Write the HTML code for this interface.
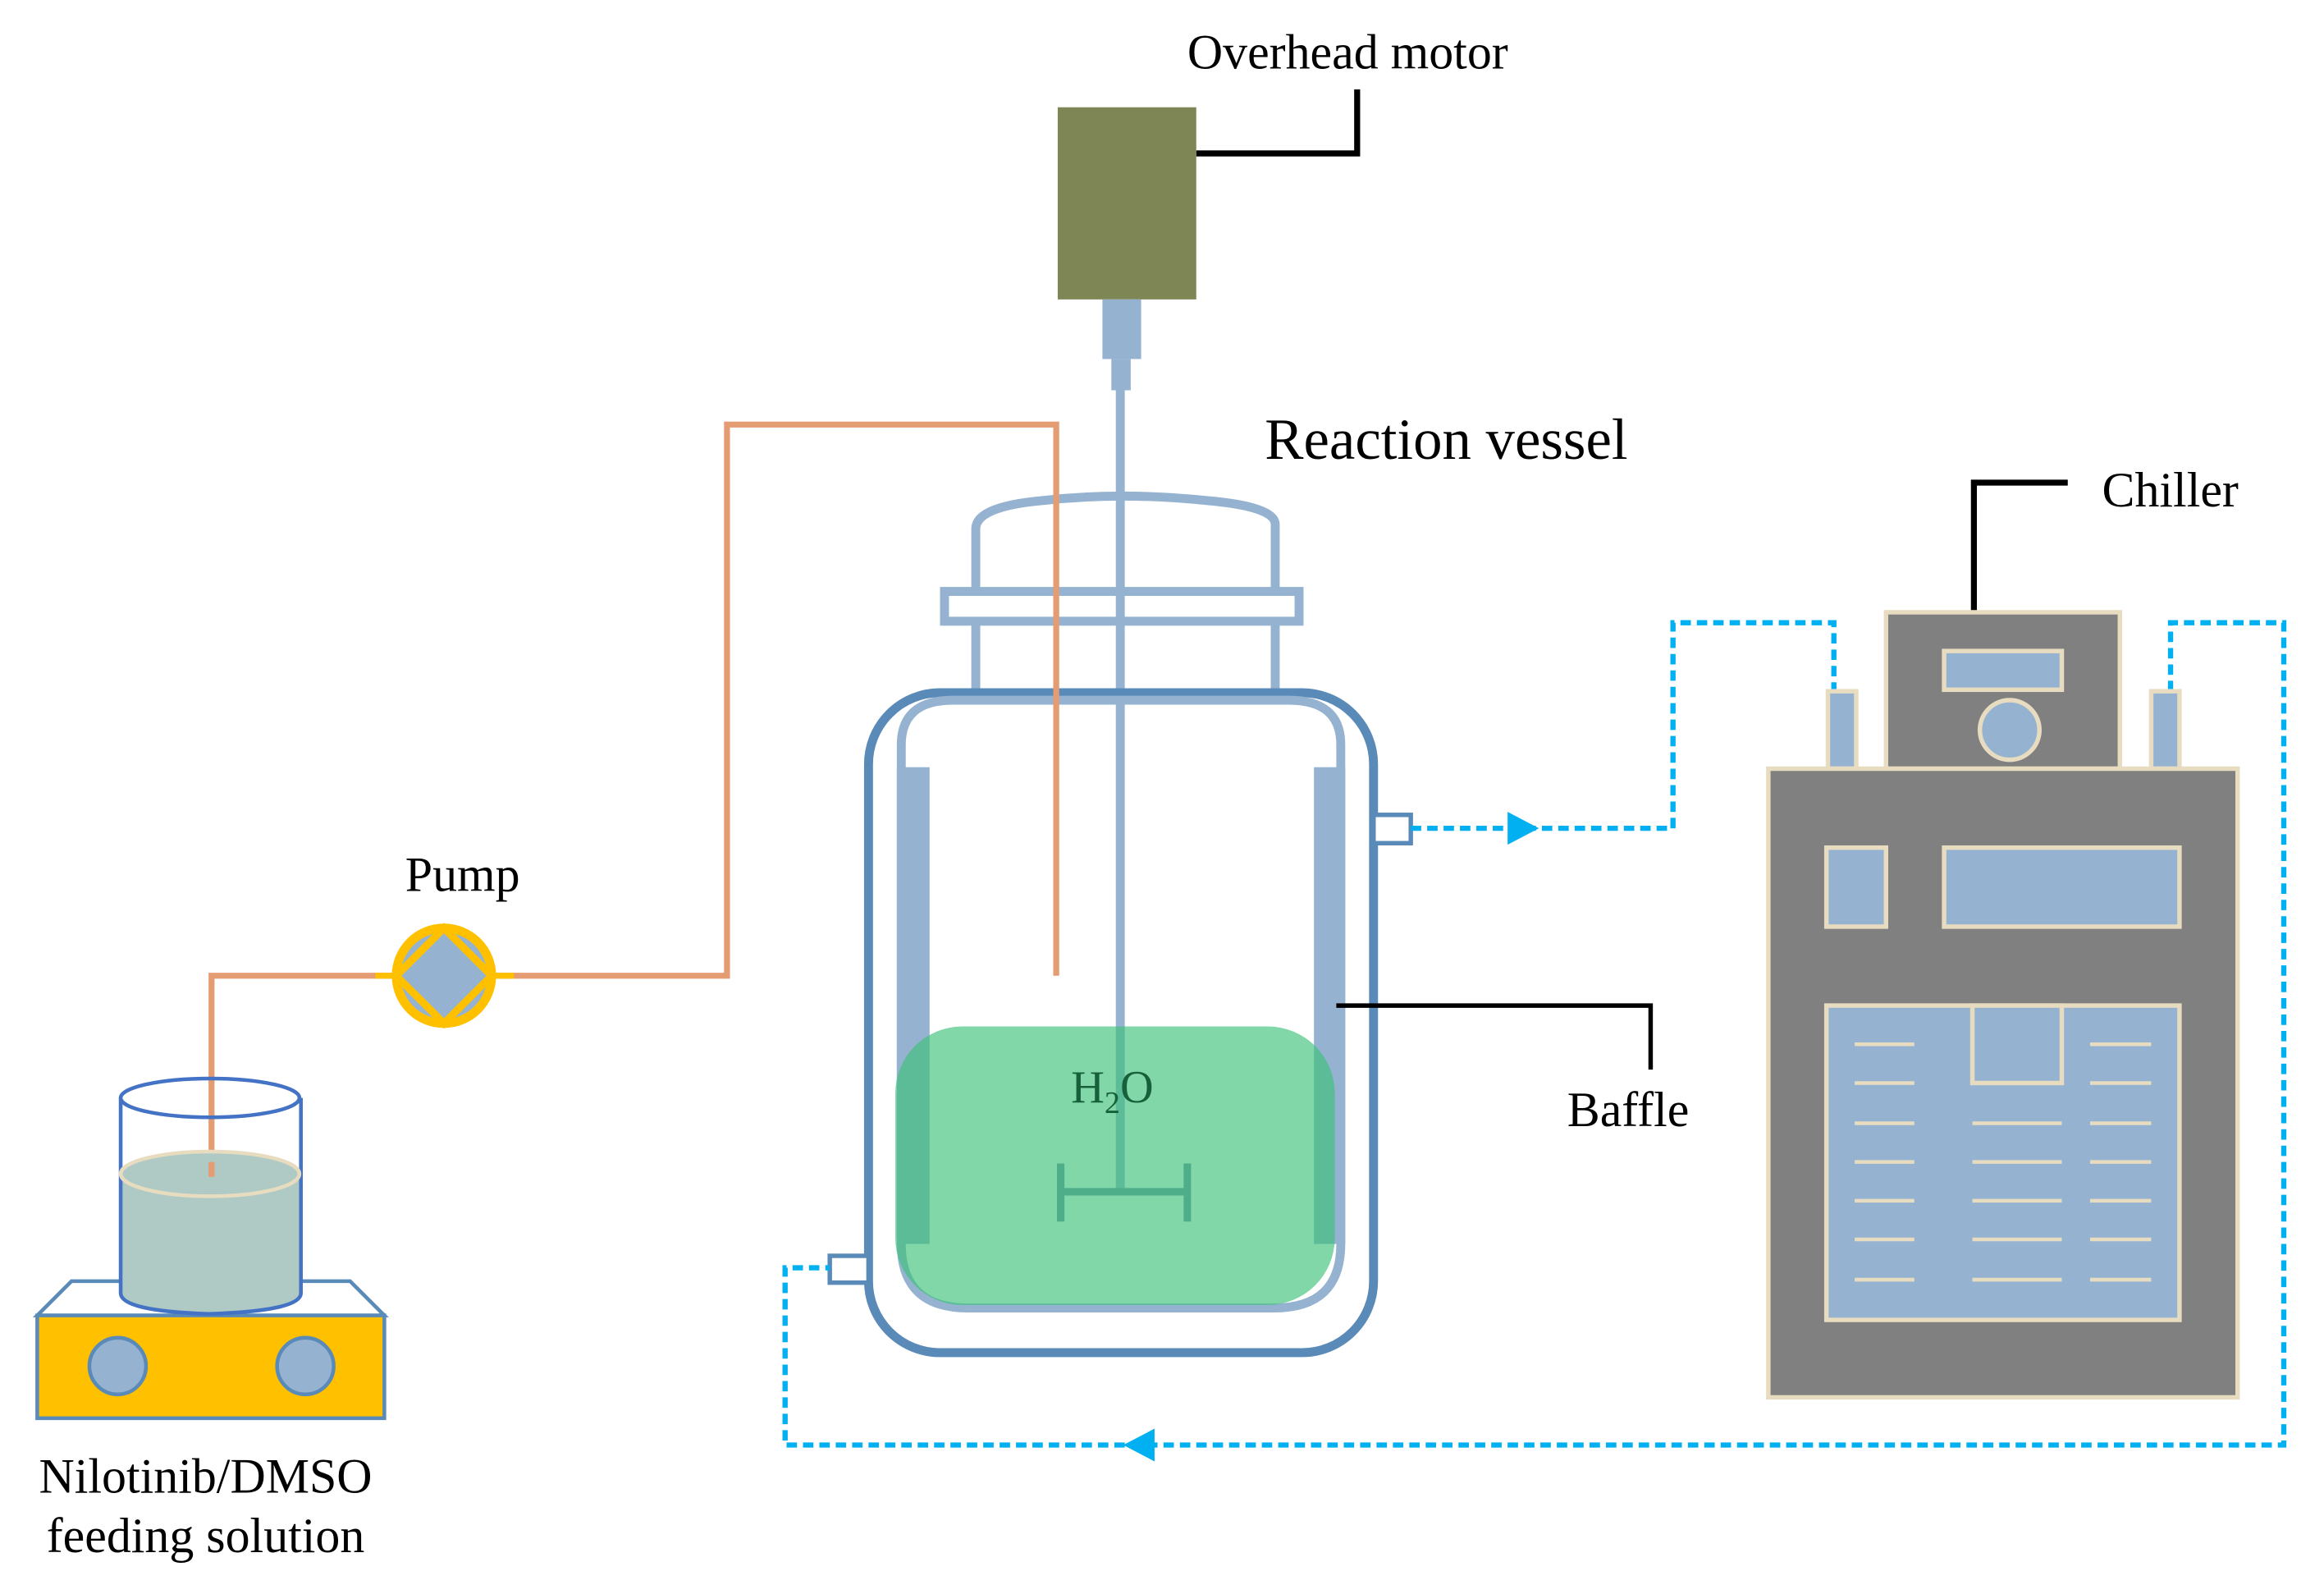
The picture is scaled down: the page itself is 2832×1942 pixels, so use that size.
<!DOCTYPE html>
<html><head><meta charset="utf-8"><style>html,body{margin:0;padding:0;background:#fff}svg{display:block}</style></head>
<body>
<svg width="2832" height="1942" viewBox="0 0 1560 1070" preserveAspectRatio="none" xmlns="http://www.w3.org/2000/svg" font-family="'Liberation Serif', serif">
<rect width="1560" height="1070" fill="#fff"/>
<!-- motor -->
<text x="797" y="46" font-size="33">Overhead motor</text>
<polyline points="803,103 911,103 911,60" fill="none" stroke="#000" stroke-width="4"/>
<rect x="710" y="72" width="93" height="129" fill="#7E8656"/>
<rect x="740" y="201" width="26" height="40" fill="#95B3D0"/>
<rect x="746" y="241" width="13" height="21" fill="#95B3D0"/>
<line x1="752" y1="262" x2="752" y2="800" stroke="#95B3D0" stroke-width="6"/>
<text x="849" y="308" font-size="39">Reaction vessel</text>
<!-- lid -->
<path d="M655,465 V355 Q655,340 700,336 Q752,330 810,336 Q856,340 856,352 V465" fill="none" stroke="#95B3D0" stroke-width="6"/>
<rect x="634" y="397" width="238" height="20" fill="#fff" stroke="#95B3D0" stroke-width="6"/>
<line x1="752" y1="397" x2="752" y2="417" stroke="#95B3D0" stroke-width="6"/>
<!-- outer jacket -->
<rect x="583" y="465" width="339" height="443" rx="48" fill="none" stroke="#5A8AB8" stroke-width="6"/>
<rect x="922" y="547" width="25" height="19" fill="#fff" stroke="#5A8AB8" stroke-width="3"/>
<rect x="557" y="843" width="26" height="18" fill="#fff" stroke="#5A8AB8" stroke-width="3"/>
<!-- inner vessel -->
<path d="M605,515 V500 Q605,470 640,470 H865 Q900,470 900,500 V835 Q900,878 855,878 H650 Q605,878 605,835 Z" fill="none" stroke="#95B3D0" stroke-width="6"/>
<rect x="602" y="515" width="22" height="320" fill="#95B3D0"/>
<rect x="882" y="515" width="21" height="320" fill="#95B3D0"/>
<!-- orange tube -->
<polyline points="142,790 142,655 265,655" fill="none" stroke="#E49C72" stroke-width="4"/>
<polyline points="333,655 488,655 488,285 709,285 709,655" fill="none" stroke="#E49C72" stroke-width="4"/>
<!-- liquid -->
<rect x="601" y="689" width="295" height="187" rx="45" fill="#3EC27A" fill-opacity="0.65"/>
<text x="719" y="740" font-size="31" fill="#16613A">H<tspan font-size="21" dy="7">2</tspan><tspan dy="-7">O</tspan></text>
<line x1="712" y1="800" x2="797" y2="800" stroke="#4FAE8A" stroke-width="5"/>
<line x1="712" y1="781" x2="712" y2="820" stroke="#4FAE8A" stroke-width="5"/>
<line x1="797" y1="781" x2="797" y2="820" stroke="#4FAE8A" stroke-width="5"/>
<!-- pump -->
<text x="272" y="598" font-size="33">Pump</text>
<line x1="252" y1="655" x2="345" y2="655" stroke="#FFC000" stroke-width="4"/>
<circle cx="298" cy="655" r="32" fill="#95B3D0" stroke="#FFC000" stroke-width="6"/>
<polygon points="298,623 330,655 298,687 266,655" fill="#95B3D0" stroke="#FFC000" stroke-width="5"/>
<!-- stirrer plate -->
<polygon points="25,883 48,860 235,860 258,883" fill="#fff" stroke="#5A8AB8" stroke-width="2.5"/>
<rect x="25" y="883" width="233" height="69" fill="#FFC000" stroke="#5A8AB8" stroke-width="2.5"/>
<circle cx="79" cy="917" r="19" fill="#95B3D0" stroke="#5A8AB8" stroke-width="2.5"/>
<circle cx="205" cy="917" r="19" fill="#95B3D0" stroke="#5A8AB8" stroke-width="2.5"/>
<!-- beaker -->
<path d="M81,788 V868 Q81,880 140,882 Q202,880 202,868 V788 Z" fill="#AFCAC5"/>
<path d="M81,737 V868 Q81,880 140,882 Q202,880 202,868 V737" fill="none" stroke="#4472C4" stroke-width="2.5"/>
<ellipse cx="141" cy="737" rx="60" ry="13" fill="none" stroke="#4472C4" stroke-width="2.5"/>
<ellipse cx="141" cy="788" rx="60" ry="15" fill="#AFCAC5" stroke="#E8DCC0" stroke-width="2.5"/>
<line x1="142" y1="780" x2="142" y2="790" stroke="#E49C72" stroke-width="4"/>
<text x="138" y="1002" font-size="33" text-anchor="middle">Nilotinib/DMSO</text>
<text x="138" y="1042" font-size="33" text-anchor="middle">feeding solution</text>
<!-- baffle label -->
<polyline points="897,675 1108,675 1108,718" fill="none" stroke="#000" stroke-width="3"/>
<text x="1052" y="756" font-size="33">Baffle</text>
<!-- coolant loop -->
<g fill="none" stroke="#00B0F0" stroke-width="3.5" stroke-dasharray="7,4">
<polyline points="947,556 1123,556 1123,418 1231,418 1231,464"/>
<polyline points="1457,464 1457,418 1533,418 1533,970 527,970 527,851 557,851"/>
</g>
<polygon points="1012,545 1033,556 1012,567" fill="#00B0F0"/>
<polygon points="775,959 754,970 775,981" fill="#00B0F0"/>
<!-- chiller -->
<polyline points="1325,411 1325,324 1388,324" fill="none" stroke="#000" stroke-width="4"/>
<text x="1411" y="340" font-size="33">Chiller</text>
<g stroke="#E8DCC0" stroke-width="3">
<rect x="1227" y="464" width="19" height="52" fill="#95B3D0"/>
<rect x="1444" y="464" width="19" height="52" fill="#95B3D0"/>
<rect x="1266" y="411" width="157" height="105" fill="#808080"/>
<rect x="1305" y="437" width="79" height="26" fill="#95B3D0"/>
<circle cx="1349" cy="490" r="20" fill="#95B3D0"/>
<rect x="1187" y="516" width="315" height="422" fill="#808080"/>
<rect x="1226" y="569" width="40" height="53" fill="#95B3D0"/>
<rect x="1305" y="569" width="158" height="53" fill="#95B3D0"/>
<rect x="1226" y="675" width="237" height="211" fill="#95B3D0"/>
<rect x="1324" y="675" width="60" height="52" fill="#95B3D0"/>
</g>
<g stroke="#E8DCC0" stroke-width="2.5">
<path d="M1245,701H1285M1245,727H1285M1245,754H1285M1245,780H1285M1245,806H1285M1245,832H1285M1245,859H1285"/>
<path d="M1403,701H1444M1403,727H1444M1403,754H1444M1403,780H1444M1403,806H1444M1403,832H1444M1403,859H1444"/>
<path d="M1324,754H1384M1324,780H1384M1324,806H1384M1324,832H1384M1324,859H1384"/>
</g>
</svg>
</body></html>
